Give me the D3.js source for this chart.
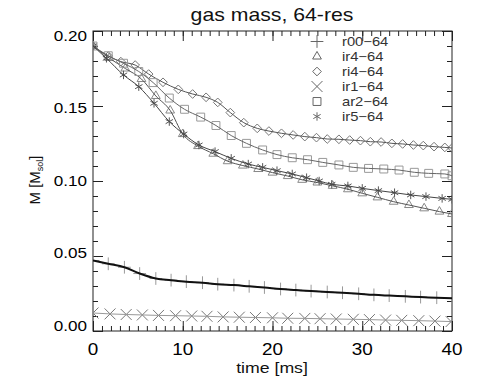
<!DOCTYPE html>
<html>
<head>
<meta charset="utf-8">
<script src="https://cdn.jsdelivr.net/npm/d3@7"></script>
<style>
  body { margin: 0; background: #fff; }
  svg { display: block; font-family: "Liberation Sans", Arial, sans-serif; }
</style>
</head>
<body>
<svg id="chart" width="480" height="392"></svg>
<script>
// values (time in ms, mass in M_sol)
const r00Time = [0, 1.7, 3.5, 5.2, 7.0, 8.7, 10.4, 12.2, 13.9, 15.7, 17.4, 19.1, 20.9, 22.6, 24.3, 26.1, 27.8, 29.6, 31.3, 33.0, 34.8, 36.5, 38.3, 40];
const r00Mass = [0.047, 0.0448, 0.0425, 0.0383, 0.035, 0.0339, 0.0329, 0.0322, 0.0312, 0.0306, 0.0298, 0.029, 0.028, 0.0273, 0.0266, 0.026, 0.0255, 0.0248, 0.0241, 0.0236, 0.0231, 0.0226, 0.0222, 0.0218];

const ir4Time = [0, 1.8, 3.6, 5.4, 7.0, 8.6, 10.0, 11.7, 13.4, 15.0, 16.7, 18.4, 20.0, 21.7, 23.3, 25.0, 26.7, 28.4, 30.0, 31.7, 33.5, 35.2, 36.9, 38.6, 40];
const ir4Mass = [0.19, 0.182, 0.175, 0.168, 0.1567, 0.147, 0.1313, 0.1233, 0.1182, 0.1132, 0.1103, 0.108, 0.1056, 0.1033, 0.1008, 0.099, 0.0968, 0.0945, 0.0918, 0.0891, 0.0862, 0.084, 0.0818, 0.0796, 0.078];

const ri4Time = [0, 1.7, 3.1, 4.7, 6.2, 7.8, 9.5, 11.1, 12.6, 13.9, 15.3, 16.8, 18.3, 19.6, 21.0, 22.3, 23.6, 24.9, 26.1, 27.4, 28.6, 29.8, 30.9, 32.1, 33.3, 34.5, 35.7, 36.8, 38.0, 39.2, 40];
const ri4Mass = [0.19, 0.1833, 0.1796, 0.1773, 0.1713, 0.1658, 0.1611, 0.158, 0.1558, 0.1524, 0.1456, 0.1389, 0.1351, 0.1333, 0.1318, 0.1307, 0.1296, 0.1289, 0.128, 0.1278, 0.1273, 0.1269, 0.1262, 0.126, 0.1251, 0.1247, 0.124, 0.1236, 0.1229, 0.1224, 0.122];

const ir1Time = [0, 1.9, 3.7, 5.5, 7.3, 9.2, 11.0, 12.7, 14.5, 16.3, 18.1, 20.0, 21.7, 23.6, 25.3, 27.1, 29.0, 30.8, 32.6, 34.4, 36.3, 38.1, 39.9];
const ir1Mass = [0.012, 0.0114, 0.011, 0.0107, 0.0104, 0.0102, 0.01, 0.0098, 0.0094, 0.0092, 0.009, 0.0088, 0.0085, 0.0084, 0.0082, 0.008, 0.0078, 0.0076, 0.0073, 0.0071, 0.0069, 0.0066, 0.0063];

const ar2Time = [0, 1.7, 3.4, 5.1, 6.7, 8.5, 10.2, 12.0, 13.7, 15.4, 17.1, 18.9, 20.5, 22.2, 23.9, 25.6, 27.4, 29.0, 30.7, 32.4, 34.1, 35.8, 37.4, 39.2, 40];
const ar2Mass = [0.19, 0.1835, 0.1785, 0.173, 0.1656, 0.1553, 0.1478, 0.1426, 0.137, 0.1303, 0.1251, 0.1207, 0.1176, 0.1155, 0.1142, 0.1124, 0.1107, 0.1091, 0.1084, 0.108, 0.1073, 0.1058, 0.1051, 0.1047, 0.1035];

const ir5Time = [0, 1.5, 3.4, 5.1, 6.8, 8.5, 10.1, 11.8, 13.6, 15.4, 17.3, 18.9, 20.5, 22.2, 23.8, 25.2, 26.6, 28.4, 30.0, 31.8, 33.6, 35.4, 37.1, 38.9, 40];
const ir5Mass = [0.19, 0.1818, 0.1707, 0.1629, 0.1518, 0.1396, 0.1313, 0.124, 0.1196, 0.1151, 0.1113, 0.1091, 0.1069, 0.1047, 0.1022, 0.1, 0.0978, 0.0967, 0.0951, 0.0936, 0.0922, 0.0907, 0.0896, 0.0884, 0.0878];

const seriesNames = ['r00\u221264', 'ir4\u221264', 'ri4\u221264', 'ir1\u221264', 'ar2\u221264', 'ir5\u221264'];
const xTickValues = [0, 10, 20, 30, 40];
const yTickValues = [0, 0.05, 0.10, 0.15, 0.20];
const yTickLabels = ['0.00', '0.05', '0.10', '0.15', '0.20'];

const series = [
  {name: seriesNames[0], time: r00Time, mass: r00Mass, symbol: d3.symbolPlus, size: 55, line: '#111', lw: 2, mark: '#999'},
  {name: seriesNames[1], time: ir4Time, mass: ir4Mass, symbol: d3.symbolTriangle2, size: 55, line: '#555', lw: 1, mark: '#888'},
  {name: seriesNames[2], time: ri4Time, mass: ri4Mass, symbol: d3.symbolDiamond2, size: 48, line: '#555', lw: 1, mark: '#777'},
  {name: seriesNames[3], time: ir1Time, mass: ir1Mass, symbol: d3.symbolX, size: 80, line: '#999', lw: 1, mark: '#777'},
  {name: seriesNames[4], time: ar2Time, mass: ar2Mass, symbol: d3.symbolSquare2, size: 80, line: '#666', lw: 1, mark: '#999'},
  {name: seriesNames[5], time: ir5Time, mass: ir5Mass, symbol: d3.symbolAsterisk, size: 50, line: '#444', lw: 1, mark: '#555'}
];

const svg = d3.select('#chart');
const STRETCH = 1.18; // the picture's lettering is a bit wider than plain Arial

const x = d3.scaleLinear().domain([0, 40]).range([93, 452]);
const y = d3.scaleLinear().domain([0, 0.2]).range([331, 31]);
// tick labels sit slightly inward from their ticks in the picture
const yLabel = d3.scaleLinear().domain([0, 0.2]).range([330.5, 40.5]);

// stretched text helper
function label(g, txt, px, py, size, anchor) {
  return g.append('text')
    .attr('transform', `translate(${px},${py}) scale(${STRETCH},1)`)
    .attr('text-anchor', anchor || 'middle')
    .attr('font-size', size)
    .attr('fill', '#111')
    .text(txt);
}

svg.append('rect').attr('width', 480).attr('height', 392).attr('fill', '#fff');

svg.append('clipPath').attr('id', 'plotclip')
  .append('rect')
  .attr('x', x(0)).attr('y', y(0.2))
  .attr('width', x(40) - x(0)).attr('height', y(0) - y(0.2));

// axes: minor and major ticks, all pointing inward
const minorX = d3.range(0, 41, 1);
const minorY = d3.range(0, 0.2001, 0.01);
function tickAxis(axis, values, size, transform) {
  const g = svg.append('g')
    .attr('transform', transform)
    .call(axis.tickValues(values).tickSize(-size).tickFormat(''));
  g.select('.domain').remove();
  g.selectAll('line').attr('stroke', '#222');
}
tickAxis(d3.axisBottom(x), minorX, 5, `translate(0,${y(0)})`);
tickAxis(d3.axisBottom(x), xTickValues, 10, `translate(0,${y(0)})`);
tickAxis(d3.axisTop(x), minorX, 5, `translate(0,${y(0.2)})`);
tickAxis(d3.axisTop(x), xTickValues, 10, `translate(0,${y(0.2)})`);
tickAxis(d3.axisLeft(y), minorY, 5, `translate(${x(0)},0)`);
tickAxis(d3.axisLeft(y), yTickValues, 10, `translate(${x(0)},0)`);
tickAxis(d3.axisRight(y), minorY, 5, `translate(${x(40)},0)`);
tickAxis(d3.axisRight(y), yTickValues, 10, `translate(${x(40)},0)`);

svg.append('rect')
  .attr('x', x(0)).attr('y', y(0.2))
  .attr('width', x(40) - x(0)).attr('height', y(0) - y(0.2))
  .attr('fill', 'none').attr('stroke', '#222').attr('stroke-width', 1);

// tick labels
const labels = svg.append('g');
xTickValues.forEach(v => label(labels, String(v), x(v), 355, 16).attr('fill', '#000'));
yTickValues.forEach((v, i) => {
  label(labels, yTickLabels[i], 87, yLabel(v), 14.5, 'end').attr('fill', '#000');
});

// titles
label(svg, 'gas mass, 64-res', 272, 21, 18);
label(svg, 'time [ms]', 272, 373, 15);
const yt = svg.append('text')
  .attr('transform', 'translate(40,180) rotate(-90)')
  .attr('text-anchor', 'middle')
  .attr('font-size', 15)
  .attr('fill', '#111');
yt.append('tspan').text('M [M');
yt.append('tspan').attr('font-size', 9).attr('dy', 3).text('sol');
yt.append('tspan').attr('dy', -3).text(']');

// lines and markers
const plot = svg.append('g').attr('clip-path', 'url(#plotclip)');
const line = d3.line()
  .x(d => x(d[0]))
  .y(d => y(d[1]))
  .curve(d3.curveMonotoneX);

series.forEach(s => {
  const pts = s.time.map((t, i) => [t, s.mass[i]]);
  plot.append('g')
    .selectAll('path')
    .data(pts)
    .join('path')
    .attr('transform', d => `translate(${x(d[0])},${y(d[1])})`)
    .attr('d', d3.symbol().type(s.symbol).size(s.size))
    .attr('fill', 'none')
    .attr('stroke', s.mark)
    .attr('stroke-width', 1);
  plot.append('path')
    .datum(pts)
    .attr('d', line)
    .attr('fill', 'none')
    .attr('stroke', s.line)
    .attr('stroke-width', s.lw);
});

// legend
const legendY = d3.scalePoint().domain(seriesNames).range([41.5, 116.5]);
const legend = svg.append('g');
series.forEach(s => {
  legend.append('path')
    .attr('transform', `translate(317,${legendY(s.name)})`)
    .attr('d', d3.symbol().type(s.symbol).size(s.size))
    .attr('fill', 'none')
    .attr('stroke', '#666')
    .attr('stroke-width', 1);
  label(legend, s.name, 342, legendY(s.name) + 4.5, 12.5, 'start').attr('fill', '#333');
});
</script>
</body>
</html>
